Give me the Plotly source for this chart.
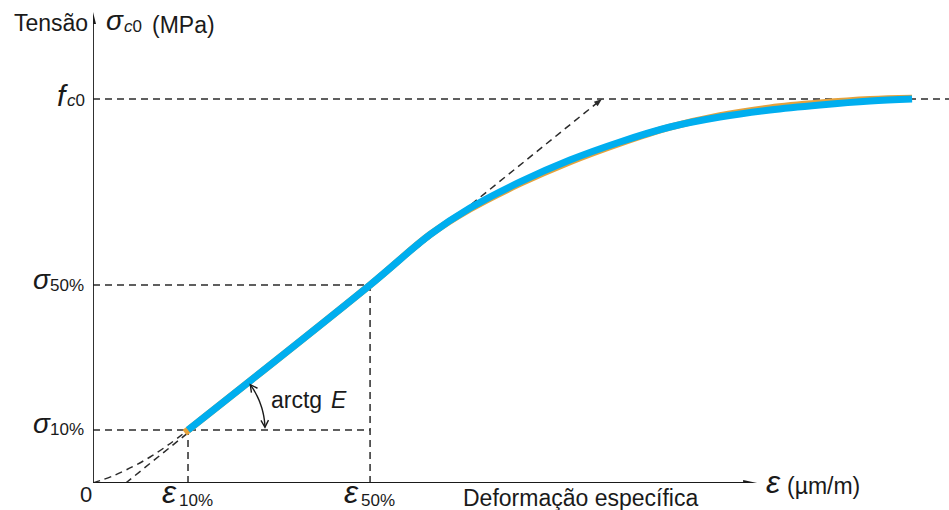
import math
import plotly.graph_objects as go

# ---- schematic stress-strain curve of concrete (strain in µm/m, stress in MPa)
fc0 = 30.0                 # compressive strength f_c0
sig10, sig50 = 4.14, 15.47  # 10 % and 50 % stress levels
eps10, eps50 = 406, 1184    # corresponding strains

# measured curve (blue)
eps_curve = [406, 1184, 1440, 1611, 1825, 2038, 2252, 2466, 2679, 2893, 3107, 3321, 3500]
sig_curve = [4.14, 15.47, 19.40, 21.48, 23.52, 25.23, 26.64, 27.81, 28.59, 29.14, 29.53, 29.84, 30.0]

# fitted curve underneath (orange)
eps_fit = [392, 1184, 1440, 1611, 1825, 2038, 2252, 2466, 2679, 2893, 3107, 3321, 3500]
sig_fit = [3.93, 15.47, 19.40, 21.40, 23.40, 25.10, 26.55, 27.80, 28.70, 29.30, 29.68, 29.95, 30.05]

# initial (seating) branch, dashed
eps_toe = [0, 85, 171, 244, 321, 406]
sig_toe = [0, 0.55, 1.29, 2.03, 2.97, 4.14]

# line of slope E through the 10 % and 50 % points
eps_tan = [140, 2175]
sig_tan = [0.0, 30.0]

# axis extents and arrow tips
eps_max, sig_max = 3658, 37.73
eps_arrow, sig_arrow = 2838, 36.8

W, H = 949, 510
ML, MB = 93, 27
PW, PH = W - ML, H - MB
kx, ky = PW / eps_max, PH / sig_max   # pixels per data unit

FONT = "Liberation Sans, Arial, sans-serif"
INK = "#1a1a1a"
DASH = dict(color="#2b2b2b", width=1.5, dash="7px,5px")

fig = go.Figure()


def add_line(x, y, line, shape="linear"):
    fig.add_trace(go.Scatter(x=x, y=y, mode="lines", hoverinfo="skip",
                             line=dict(shape=shape, **line)))


# reference dashed lines
add_line([0, eps_max], [fc0, fc0], DASH)
add_line([0, eps50], [sig50, sig50], DASH)
add_line([0, eps50], [sig10, sig10], DASH)
add_line([eps10, eps10], [0, sig10], DASH)
add_line([eps50, eps50], [0, sig50], DASH)
add_line(eps_tan, sig_tan, DASH)
add_line(eps_toe, sig_toe, DASH, shape="spline")

# curves
add_line(eps_fit, sig_fit, dict(color="#E5A23C", width=7), shape="spline")
add_line(eps_curve, sig_curve, dict(color="#00AEEF", width=7), shape="spline")

shapes = []
# axes
shapes.append(dict(type="line", xref="x", yref="y", x0=0, y0=0, x1=0, y1=sig_arrow - 6 / ky,
                   line=dict(color=INK, width=1.8)))
shapes.append(dict(type="line", xref="x", yref="y", x0=0, y0=0, x1=eps_arrow - 6 / kx, y1=0,
                   line=dict(color=INK, width=1.8)))
shapes.append(dict(type="path", xref="x", yref="y", xsizemode="pixel", ysizemode="pixel",
                   xanchor=0, yanchor=sig_arrow, path="M0,0 L-3,-12 L3,-12 Z",
                   fillcolor=INK, line=dict(width=0)))
shapes.append(dict(type="path", xref="x", yref="y", xsizemode="pixel", ysizemode="pixel",
                   xanchor=eps_arrow, yanchor=0, path="M0,0 L-14,3 L-14,-3 Z",
                   fillcolor=INK, line=dict(width=0)))


def pts(p):
    return " L".join(f"{x:.2f},{y:.2f}" for x, y in p)


# arrowhead at the end of the slope line
ang = math.atan2((sig_tan[1] - sig_tan[0]) * ky, (eps_tan[1] - eps_tan[0]) * kx)
c, s = math.cos(ang), math.sin(ang)
head = [(0, 0), (-8 * c - 3 * s, -8 * s + 3 * c), (-8 * c + 3 * s, -8 * s - 3 * c)]
shapes.append(dict(type="path", xref="x", yref="y", xsizemode="pixel", ysizemode="pixel",
                   xanchor=eps_tan[1], yanchor=sig_tan[1], path="M" + pts(head) + " Z",
                   fillcolor="#2b2b2b", line=dict(width=0)))

# angle arc (arctg E) with open arrowheads at both ends
R = 77
t0, t1 = math.radians(2), math.radians(36)
arc = [(R * math.cos(t0 + (t1 - t0) * i / 24), R * math.sin(t0 + (t1 - t0) * i / 24)) for i in range(25)]
shapes.append(dict(type="path", xref="x", yref="y", xsizemode="pixel", ysizemode="pixel",
                   xanchor=eps10, yanchor=sig10, path="M" + pts(arc),
                   line=dict(color=INK, width=1.4)))


def chevron(theta, sign):
    tip = (R * math.cos(theta), R * math.sin(theta))
    d = (-math.sin(theta) * sign, math.cos(theta) * sign)
    arms = []
    for a in (math.radians(28), -math.radians(28)):
        bx = -d[0] * math.cos(a) + d[1] * math.sin(a)
        by = -d[0] * math.sin(a) - d[1] * math.cos(a)
        arms.append((tip[0] + 8 * bx, tip[1] + 8 * by))
    return "M" + pts([arms[0], tip, arms[1]])


for th, sg in ((t1, 1), (t0, -1)):
    shapes.append(dict(type="path", xref="x", yref="y", xsizemode="pixel", ysizemode="pixel",
                       xanchor=eps10, yanchor=sig10, path=chevron(th, sg),
                       line=dict(color=INK, width=1.4)))

# text labels: (text, x px, y px centre, size, anchor)
labels = [
    ("Tensão", 90, 23, 23, "right"),
    ("<i>σ</i>", 104, 21, 28, "left"),
    ("<i>c</i>0", 122, 27, 17, "left"),
    ("(MPa)", 150, 25, 23, "left"),
    ("<i>f</i>", 55, 95, 30, "left"),
    ("<i>c</i>0", 65, 100.5, 17, "left"),
    ("<i>σ</i>", 31, 279, 28, "left"),
    ("50%", 48, 285, 17, "left"),
    ("<i>σ</i>", 31, 423, 28, "left"),
    ("10%", 48, 429, 17, "left"),
    ("0", 86, 494, 22, "center"),
    ("<i>ε</i>", 160, 492, 32, "left"),
    ("10%", 177, 500, 17, "left"),
    ("<i>ε</i>", 342, 492, 32, "left"),
    ("50%", 359, 500, 17, "left"),
    ("Deformação específica", 580, 498, 23, "center"),
    ("<i>ε</i>", 764, 482, 32, "left"),
    ("(µm/m)", 785, 486, 23, "left"),
    ("arctg", 269, 400, 23, "left"),
    ("<i>E</i>", 329, 400, 23, "left"),
]
annotations = []
for txt, px, py, size, anc in labels:
    annotations.append(dict(text=txt, xref="paper", yref="paper",
                            x=(px - ML) / PW, y=(H - MB - py) / PH,
                            xanchor=anc, yanchor="middle", showarrow=False,
                            font=dict(family=FONT, size=size, color=INK)))

fig.update_layout(
    width=W, height=H,
    margin=dict(l=ML, r=0, t=0, b=MB, pad=0),
    paper_bgcolor="white", plot_bgcolor="white",
    showlegend=False,
    xaxis=dict(range=[0, eps_max], visible=False, fixedrange=True),
    yaxis=dict(range=[0, sig_max], visible=False, fixedrange=True),
    shapes=shapes, annotations=annotations,
)

fig.write_html("out.html")
